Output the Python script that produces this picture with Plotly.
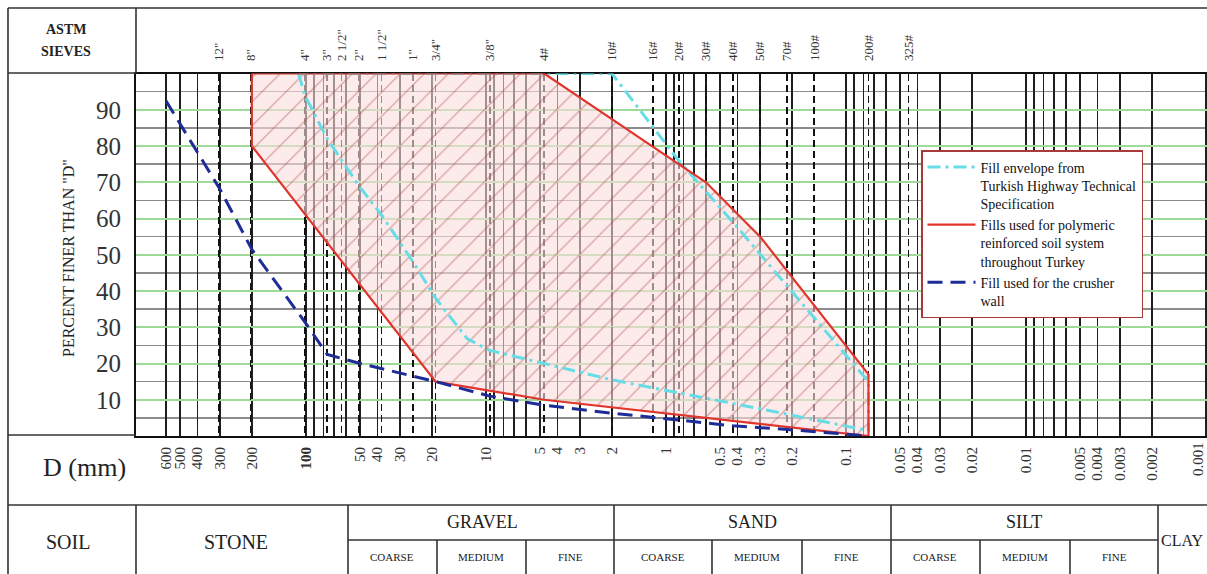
import math
import plotly.graph_objects as go

W, H = 1207, 574
SERIF = "Liberation Serif"

# ---------------- data ----------------
# ASTM sieve designations (top axis) and their openings in mm
SIEVE_LABELS = ['12"', '8"', '4"', '3"', '2 1/2"', '2"', '1 1/2"', '1"', '3/4"', '3/8"',
                '4#', '10#', '16#', '20#', '30#', '40#', '50#', '70#', '100#', '200#', '325#']
SIEVE_MM = [304.8, 203.2, 101.6, 76.2, 63.5, 50.8, 38.1, 25.4, 19.05, 9.525,
            4.75, 2.0, 1.18, 0.85, 0.6, 0.425, 0.3, 0.212, 0.15, 0.075, 0.045]

# logarithmic grid of grain size D (mm)
GRID_D = [600, 500, 400, 300, 200, 100, 90, 80, 70, 60, 50, 40, 30, 20, 10,
          9, 8, 7, 6, 5, 4, 3, 2, 1,
          0.9, 0.8, 0.7, 0.6, 0.5, 0.4, 0.3, 0.2, 0.1,
          0.09, 0.08, 0.07, 0.06, 0.05, 0.04, 0.03, 0.02, 0.01,
          0.009, 0.008, 0.007, 0.006, 0.005, 0.004, 0.003, 0.002, 0.001]
D_LABELS = ['600', '500', '400', '300', '200', '100', '50', '40', '30', '20', '10',
            '5', '4', '3', '2', '1', '0.5', '0.4', '0.3', '0.2', '0.1',
            '0.05', '0.04', '0.03', '0.02', '0.01', '0.005', '0.004', '0.003', '0.002', '0.001']
EDGE_LABEL = '0.001'   # last D label, sits on the right edge of the chart

PERCENT_TICKS = [10, 20, 30, 40, 50, 60, 70, 80, 90]
PERCENT_MINOR = [5, 15, 25, 35, 45, 55, 65, 75, 85, 95]

# Fill envelope (Turkish Highway Technical Specification): coarse bound, then fine bound
CYAN_COARSE_D = [110, 101.6, 76.2, 50.8, 38.1, 25.4, 19.05, 12.7, 9.525, 4.75, 2.0, 0.425, 0.075]
CYAN_COARSE_P = [100, 94, 82, 69, 61, 48, 38, 26.8, 23.6, 20, 15.5, 9, 1.5]
CYAN_FINE_D = [0.075, 0.425, 0.85, 2.0, 110]
CYAN_FINE_P = [15, 59, 76, 100, 100]

# Fills used for polymeric reinforced soil systems (closed band)
RED_D = [200, 200, 19.05, 4.75, 0.075, 0.075, 0.3, 0.6, 0.85, 4.75, 200]
RED_P = [100, 80, 15, 10, 0, 17, 55, 70, 75, 100, 100]

# Fill used for the crusher wall
BLUE_D = [600, 300, 200, 100, 76.2, 50, 19.05, 9.525, 4.75, 2.0, 0.85, 0.425, 0.212, 0.075]
BLUE_P = [92.5, 68, 51.5, 31, 22.5, 20, 15, 11, 8.5, 6.3, 4.4, 2.8, 1.8, 0]


# ---------------- geometry helpers (pixels -> paper fractions) ----------------
def px(x):
    return x / W


def py(y):
    return 1 - y / H


X_RANGE = [2.9444, -3.0056]  # log10(D), reversed: coarse at left

fig = go.Figure()

fig.add_trace(go.Scatter(
    x=RED_D, y=RED_P, mode="lines", fill="toself",
    line=dict(width=0, color="rgba(0,0,0,0)"),
    fillcolor="rgba(250,215,215,0.5)",
    fillpattern=dict(shape="/", size=17, solidity=0.08,
                     fgcolor="rgba(165,70,60,0.85)", bgcolor="rgba(251,222,222,0.6)"),
    showlegend=False, hoverinfo="skip"))

fig.add_trace(go.Scatter(
    x=CYAN_COARSE_D + CYAN_FINE_D, y=CYAN_COARSE_P + CYAN_FINE_P, mode="lines",
    name="Fill envelope from<br>Turkish Highway Technical<br>Specification",
    line=dict(color="#66dde6", width=3, dash="13px,5px,3px,5px")))

fig.add_trace(go.Scatter(
    x=RED_D, y=RED_P, mode="lines",
    name="Fills used for polymeric<br>reinforced soil system<br>throughout Turkey",
    line=dict(color="#e0352c", width=2.2)))

fig.add_trace(go.Scatter(
    x=BLUE_D, y=BLUE_P, mode="lines", xaxis="x2", yaxis="y",
    name="Fill used for the crusher<br>wall",
    line=dict(color="#1d2c96", width=3, dash="15px,8px")))

tick_text = []
for v in GRID_D:
    s = ("%g" % v)
    if s in D_LABELS and s != EDGE_LABEL:
        tick_text.append("<b>100</b>" if s == "100" else s)
    else:
        tick_text.append("")

fig.update_layout(
    width=W, height=H, autosize=False,
    margin=dict(l=0, r=0, t=0, b=0),
    paper_bgcolor="white", plot_bgcolor="white",
    font=dict(family=SERIF, color="#222"),
    xaxis=dict(
        type="log", range=X_RANGE, domain=[px(136), 1.0],
        tickmode="array", tickvals=GRID_D, ticktext=tick_text,
        tickangle=-90, ticks="", ticklabelstandoff=3,
        tickfont=dict(family=SERIF, size=15, color="#333"),
        showgrid=True, gridcolor="#1e1e1e", gridwidth=1.5,
        showline=True, linecolor="#111", linewidth=2, layer="below traces",
        zeroline=False, fixedrange=True),
    xaxis2=dict(
        type="log", range=X_RANGE, overlaying="x", side="top", anchor="y",
        tickmode="array", tickvals=SIEVE_MM, ticktext=SIEVE_LABELS,
        tickangle=-90, ticks="", ticklabelstandoff=8,
        tickfont=dict(family=SERIF, size=13, color="#333"),
        showgrid=True, gridcolor="#111", gridwidth=1.6, griddash="7px,4px",
        showline=True, linecolor="#111", linewidth=2, layer="below traces",
        zeroline=False, fixedrange=True),
    yaxis=dict(
        range=[0, 100], domain=[py(436), py(73.5)],
        tickmode="array", tickvals=PERCENT_TICKS, ticks="", ticklabelstandoff=8,
        tickfont=dict(family=SERIF, size=25, color="#333"),
        showgrid=True, gridcolor="#9ed99a", gridwidth=2,
        minor=dict(tickvals=PERCENT_MINOR, showgrid=True, gridcolor="#8c8c8c", gridwidth=1.5),
        showline=True, linecolor="#111", linewidth=2, layer="below traces",
        zeroline=False, fixedrange=True),
    legend=dict(
        x=px(921), y=py(150), xanchor="left", yanchor="top",
        bgcolor="white", bordercolor="#a83a3a", borderwidth=1.5,
        font=dict(family=SERIF, size=14, color="#111"),
        valign="top", itemwidth=48),
)

# last D label: placed at its axis value (log units), nudged to stay inside the page edge
fig.add_annotation(text=EDGE_LABEL, x=math.log10(float(EDGE_LABEL)), xref="x",
                   y=py(459), yref="paper",
                   showarrow=False, textangle=-90, xanchor="center", yanchor="middle",
                   xshift=-8, font=dict(family=SERIF, size=15, color="#333"))

# ---------------- table frame ----------------
LINE = dict(color="#333", width=1.6)
segments = [
    (8, 8, 1207, 8), (8, 8, 8, 574),
    (136, 8, 136, 73), (8, 73, 136, 73),
    (8, 435, 136, 435), (8, 505, 1207, 505),
    (136, 505, 136, 574), (348, 505, 348, 574), (614, 505, 614, 574),
    (891, 505, 891, 574), (1158, 505, 1158, 574),
    (348, 540, 1158, 540),
    (437, 540, 437, 574), (526, 540, 526, 574),
    (712, 540, 712, 574), (802, 540, 802, 574),
    (980, 540, 980, 574), (1070, 540, 1070, 574),
]
for x0, y0, x1, y1 in segments:
    fig.add_shape(type="line", xref="paper", yref="paper",
                  x0=px(x0), y0=py(y0), x1=px(x1), y1=py(y1), line=LINE)


def label(text, x, y, size, angle=0, anchor="center"):
    fig.add_annotation(text=text, x=px(x), y=py(y), xref="paper", yref="paper",
                       showarrow=False, textangle=angle, xanchor=anchor, yanchor="middle",
                       font=dict(family=SERIF, size=size, color="#222"))


label("<b>ASTM</b>", 66, 29, 14)
label("<b>SIEVES</b>", 66, 51, 14)
label('PERCENT FINER THAN "D"', 68, 258, 16, angle=-90)
label("D (mm)", 84, 467, 26)
label("SOIL", 68, 542, 20)
label("STONE", 236, 542, 20)
label("GRAVEL", 483, 522, 18)
label("SAND", 752, 522, 18)
label("SILT", 1024, 522, 18)
label("CLAY", 1159, 540, 16, anchor="left")
SUBS = ["COARSE", "MEDIUM", "FINE"]
SUB_X = [[392, 481, 570], [663, 757, 846], [935, 1025, 1114]]
for row in SUB_X:
    for t, cx in zip(SUBS, row):
        label(t, cx, 557, 11)

fig.write_html("out.html", config={"displayModeBar": False, "staticPlot": True},
               post_script="document.body.style.margin='0';document.body.style.overflow='hidden';")
